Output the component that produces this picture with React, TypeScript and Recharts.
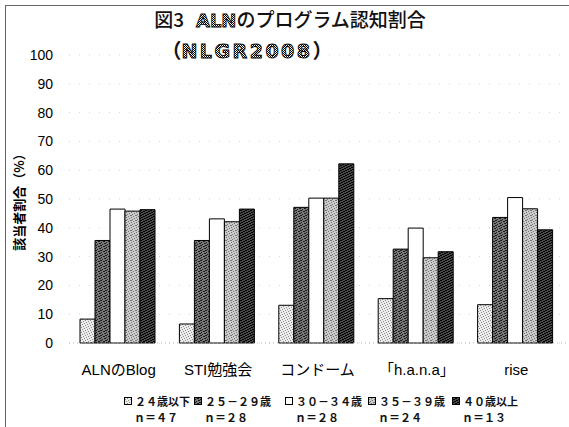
import React from 'react';
import { BarChart, Bar, XAxis, YAxis, CartesianGrid } from 'recharts';

// Program names along the x axis
const categories = ['ALNのBlog', 'STI勉強会', 'コンドーム', '「h.a.n.a」', 'rise'];

// Recognition rate (%) per age group
const age24Under = [8.3, 6.6, 13.1, 15.4, 13.3];
const age25to29 = [35.6, 35.6, 47.1, 32.6, 43.6];
const age30to34 = [46.5, 43.1, 50.3, 39.9, 50.5];
const age35to39 = [45.8, 42.1, 50.3, 29.6, 46.6];
const age40Over = [46.3, 46.5, 62.2, 31.7, 39.3];

// Legend texts
const groupNames = ['２４歳以下', '２５－２９歳', '３０－３４歳', '３５－３９歳', '４０歳以上'];
const groupSizes = ['ｎ＝４７', 'ｎ＝２８', 'ｎ＝２８', 'ｎ＝２４', 'ｎ＝１３'];

// Axis ticks
const yTicks = [0, 10, 20, 30, 40, 50, 60, 70, 80, 90, 100];

const seriesValues = [age24Under, age25to29, age30to34, age35to39, age40Over];
const seriesKeys = ['g1', 'g2', 'g3', 'g4', 'g5'];
const seriesFills = ['url(#dotLight)', 'url(#dotDark)', '#ffffff', 'url(#dotMid)', 'url(#dotBlack)'];

const data = categories.map((name, i) => {
  const row: Record<string, string | number> = { name };
  seriesKeys.forEach((k, s) => {
    row[k] = seriesValues[s][i];
  });
  return row;
});

const W = 569;
const H = 427;
const latin = "'Liberation Sans', 'Noto Sans CJK JP', sans-serif";
const cjk = "'Noto Sans CJK JP', sans-serif";

// Scattered-dot tile used for the halftone bar textures
const scatter: Array<[number, number]> = [
  [0, 0], [3, 1], [1, 2], [4, 3], [2, 4], [1, 0], [4, 1], [0, 3], [3, 4], [2, 2],
];

const Stipple = ({ id, base, dot, count }: { id: string; base: string; dot: string; count: number }) => (
  <pattern id={id} width={5} height={5} patternUnits="userSpaceOnUse">
    <rect width={5} height={5} fill={base} />
    {scatter.slice(0, count).map(([x, y], i) => (
      <rect key={i} x={x} y={y} width={1} height={1} fill={dot} />
    ))}
  </pattern>
);

const Patterns = () => (
  <svg width={0} height={0} style={{ position: 'absolute' }}>
    <defs>
      <Stipple id="dotLight" base="#ececec" dot="#8c8c8c" count={5} />
      <Stipple id="dotDark" base="#787878" dot="#1c1c1c" count={8} />
      <Stipple id="dotMid" base="#cbcbcb" dot="#747474" count={6} />
      <Stipple id="dotBlack" base="#4a4a4a" dot="#000000" count={10} />
      <pattern id="hatch" width={2} height={2} patternUnits="userSpaceOnUse">
        <rect width={2} height={2} fill="#ffffff" />
        <rect x={0} y={0} width={1} height={1} fill="#000" />
        <rect x={1} y={1} width={1} height={1} fill="#000" />
      </pattern>
    </defs>
  </svg>
);

const legendLeft = [124, 194, 285, 368, 452];

const LegendBlock = () => (
  <div style={{ position: 'absolute', left: 0, top: 393, width: W, height: 34 }}>
    {groupNames.map((g, i) => (
      <div
        key={g}
        style={{
          position: 'absolute',
          left: legendLeft[i],
          top: 0,
          fontFamily: cjk,
          fontSize: 11,
          fontWeight: 700,
          color: '#111',
          whiteSpace: 'nowrap',
        }}
      >
        <div style={{ display: 'flex', alignItems: 'center', height: 16 }}>
          <svg width={8} height={8} style={{ marginRight: 3 }}>
            <rect x={0.5} y={0.5} width={7} height={7} fill={seriesFills[i]} stroke="#000" strokeWidth={1} />
          </svg>
          <span style={{ lineHeight: '16px' }}>{g}</span>
        </div>
        <div style={{ height: 16, lineHeight: '16px', paddingLeft: 10 }}>{groupSizes[i]}</div>
      </div>
    ))}
  </div>
);

const TitleLayer = () => (
  <svg width={W} height={H} style={{ position: 'absolute', left: 0, top: 0, pointerEvents: 'none' }}>
    <line x1={5} y1={5.5} x2={W} y2={5.5} stroke="#666" strokeWidth={1} />
    <line x1={5.5} y1={5} x2={5.5} y2={H} stroke="#666" strokeWidth={1} />
    <text x={290} y={27} textAnchor="middle" fontSize={19} fontFamily={cjk} fontWeight={500} fill="#111">
      <tspan>図3</tspan>
      <tspan dx={12} fontFamily="'DejaVu Sans', sans-serif" fontWeight={700} fontSize={18} fill="url(#hatch)" stroke="#000" strokeWidth={0.8}>
        ALN
      </tspan>
      <tspan>のプログラム認知割合</tspan>
    </text>
    <text x={247} y={58} textAnchor="middle" fontSize={20} fontFamily={cjk} fontWeight={700} fill="#111">
      <tspan>（</tspan>
      <tspan fontFamily="'DejaVu Sans', sans-serif" fontSize={19} letterSpacing={2.5} fill="url(#hatch)" stroke="#000" strokeWidth={0.9}>
        NLGR2008
      </tspan>
      <tspan>）</tspan>
    </text>
  </svg>
);

export default function App() {
  return (
    <div style={{ position: 'absolute', left: 0, top: 0, width: W, height: H, background: '#fff', overflow: 'hidden' }}>
      <Patterns />
      <BarChart
        width={W}
        height={H}
        data={data}
        margin={{ top: 55, right: 3, left: 22, bottom: 54 }}
        barCategoryGap={11}
        barGap={0}
      >
        <CartesianGrid vertical={false} stroke="#d4d4d4" strokeDasharray="1 9" />
        <XAxis
          dataKey="name"
          interval={0}
          tickLine={false}
          axisLine={{ stroke: '#b5b5b5', strokeDasharray: '1 3' }}
          tickMargin={15}
          tick={{ fontSize: 15, fill: '#000', fontFamily: latin }}
        />
        <YAxis
          width={47}
          domain={[0, 100]}
          ticks={yTicks}
          interval={0}
          tickLine={false}
          axisLine={false}
          tickMargin={10}
          tick={{ fontSize: 14, fill: '#000', fontFamily: latin }}
          label={{
            value: '該当者割合（%）',
            angle: -90,
            position: 'insideLeft',
            offset: -3,
            style: { textAnchor: 'middle', fontSize: 13, fontWeight: 700, fontFamily: cjk, fill: '#000' },
          }}
        />
        {seriesKeys.map((k, s) => (
          <Bar
            key={k}
            dataKey={k}
            name={groupNames[s]}
            fill={seriesFills[s]}
            stroke="#000"
            strokeWidth={1}
            isAnimationActive={false}
          />
        ))}
      </BarChart>
      <LegendBlock />
      <TitleLayer />
    </div>
  );
}
